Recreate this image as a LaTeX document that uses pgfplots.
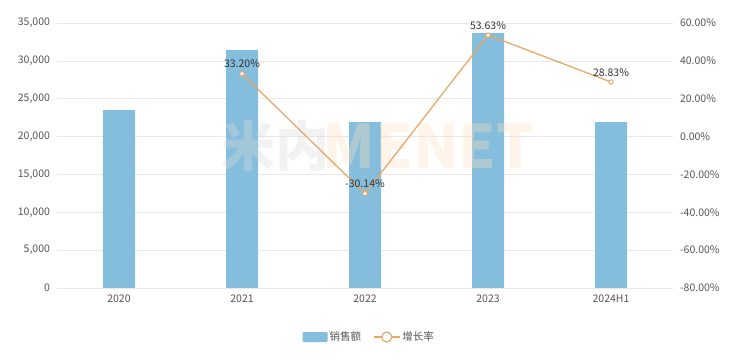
\documentclass[border=0pt]{standalone}
\usepackage{pgfplots}
\pgfplotsset{compat=1.18}
\usepackage{fontspec}
\setmainfont{Noto Sans CJK SC}
\definecolor{barc}{HTML}{85BEDC}
\definecolor{linec}{HTML}{E8A867}
\definecolor{gridc}{HTML}{E8E8E8}
\definecolor{txt}{HTML}{555555}
\begin{document}
\begin{tikzpicture}
\useasboundingbox (-57.5pt,-75pt) rectangle (680.5pt,288pt);
\begin{axis}[
  scale only axis, width=615pt, height=265pt,
  at={(0pt,0pt)}, anchor=south west,
  xmin=-0.5, xmax=4.5, ymin=0, ymax=35000,
  xtick={0,1,2,3,4}, xticklabels={2020,2021,2022,2023,2024H1},
  ytick={0,5000,...,35000},
  axis y line*=left, axis x line*=bottom,
  x axis line style={draw=gridc},
  y axis line style={draw=none},
  major tick length=0pt,
  ymajorgrids, grid style={gridc, line width=0.6pt},
  tick label style={font=\fontsize{10.5}{12}\selectfont, text=txt},
  /pgf/number format/assume math mode=true,
  /pgf/number format/.cd, 1000 sep={,}, fixed,
  /pgfplots/.cd,
  scaled y ticks=false,
  yticklabel style={xshift=-4pt},
  xticklabel style={yshift=-3pt},
  legend style={at={(0.507,-0.185)}, anchor=center, draw=none, legend columns=2,
    font=\fontsize{10.5}{12}\selectfont, text=txt, /tikz/every even column/.append style={column sep=10pt}},
  legend image code/.code={\fill[#1, rounded corners=1pt] (0pt,-5pt) rectangle (25pt,5pt);},
]
\addplot[ybar, bar width=32pt, fill=barc, draw=none] coordinates {(0,23500) (1,31430) (2,21920) (3,33680) (4,21920)};
\addlegendentry{销售额}
\addlegendimage{legend image code/.code={
  \draw[linec, line width=1.2pt] (0pt,0pt) -- (26pt,0pt);
  \draw[linec, line width=1.2pt, fill=white] (13pt,0pt) circle (5pt);}}
\addlegendentry{增长率}
\node[font=\fontsize{54}{60}\selectfont\bfseries, text=gray!30, opacity=0.35, anchor=center] at (axis cs:1.27,18700) {米内};
\node[font=\fontsize{60}{64}\selectfont\bfseries, text=orange!25, opacity=0.35, anchor=center] at (axis cs:2.52,18700) {MENET};
\end{axis}
\begin{axis}[
  scale only axis, width=615pt, height=265pt,
  at={(0pt,0pt)}, anchor=south west,
  xmin=-0.5, xmax=4.5, ymin=-80, ymax=60,
  ytick={-80,-60,...,60},
  axis y line*=right, axis x line=none,
  y axis line style={draw=none},
  major tick length=0pt,
  tick label style={font=\fontsize{10.5}{12}\selectfont, text=txt},
  yticklabel={\pgfmathprintnumber[fixed, fixed zerofill, precision=2, assume math mode=true]{\tick}\%},
  yticklabel style={xshift=4pt},
]
\addplot[linec, line width=1.3pt, mark=*, mark size=2.2pt, mark options={fill=white, draw=linec, line width=1pt},
  nodes near coords={\pgfmathprintnumber[fixed, fixed zerofill, precision=2, assume math mode=true]{\pgfplotspointmeta}\%},
  every node near coord/.append style={font=\fontsize{10.5}{12}\selectfont, text=black!80, anchor=south, yshift=2pt}]
 coordinates {(1,33.20) (2,-30.14) (3,53.63) (4,28.83)};
\end{axis}
\end{tikzpicture}
\end{document}
